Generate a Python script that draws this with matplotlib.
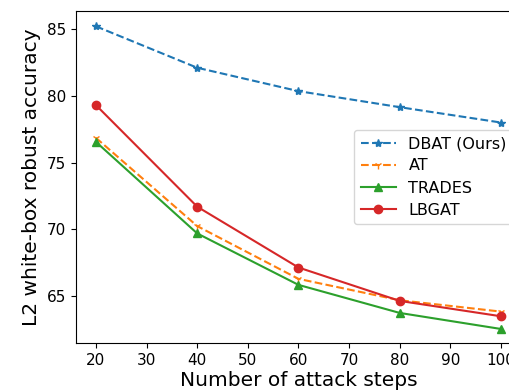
import matplotlib
matplotlib.use("Agg")
import matplotlib.pyplot as plt

# attack steps and L2 white-box robust accuracy (%)
steps = [20, 40, 60, 80, 100]
dbat = [85.2, 82.1, 80.35, 79.15, 78.0]
at = [76.85, 70.25, 66.3, 64.7, 63.85]
trades = [76.55, 69.7, 65.85, 63.75, 62.55]
lbgat = [79.3, 71.7, 67.15, 64.65, 63.5]

fig = plt.figure(figsize=(5.1, 3.92), dpi=100)
# axes run a little past the right edge of the figure
ax = fig.add_axes([0.1485, 0.125, 0.8735, 0.847])

ax.plot(steps, dbat, '--', marker='*', color='C0', label='DBAT (Ours)')
ax.plot(steps, at, '--', marker='1', color='C1', label='AT')
ax.plot(steps, trades, '-', marker='^', color='C2', label='TRADES')
ax.plot(steps, lbgat, '-', marker='o', color='C3', label='LBGAT')

ax.set_ylim(61.5, 86.35)
ax.set_xticks([20, 30, 40, 50, 60, 70, 80, 90, 100])
ax.set_yticks([65, 70, 75, 80, 85])
ax.tick_params(labelsize=11)
ax.set_xlabel('Number of attack steps', fontsize=14.5, labelpad=2)
ax.set_ylabel('L2 white-box robust accuracy', fontsize=14.5, labelpad=4)
ax.legend(loc='center right', fontsize=11.5, handlelength=2.2,
          labelspacing=0.45)

fig.savefig('out.png', dpi=100)
